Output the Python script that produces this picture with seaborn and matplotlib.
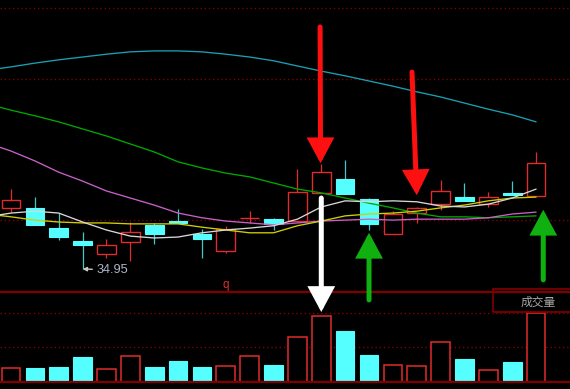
import matplotlib
matplotlib.use('Agg')
import matplotlib.pyplot as plt
from matplotlib.patches import Rectangle, ConnectionPatch
import numpy as np
import seaborn as sns

# 23 daily sessions (k-line)
opens = [36.25, 36.25, 35.82, 35.55, 35.27, 35.52, 35.89, 35.97, 35.69, 35.33, 36.03, 36.01,
         35.97, 36.57, 36.86, 36.44, 35.69, 36.14, 36.33, 36.48, 36.33, 36.57, 36.50]
closes = [36.42, 35.89, 35.63, 35.46, 35.46, 35.74, 35.69, 35.93, 35.59, 35.80, 36.04, 35.91,
          36.59, 37.01, 36.55, 35.91, 36.12, 36.25, 36.61, 36.40, 36.48, 36.52, 37.21]
highs = [36.65, 36.48, 36.14, 35.74, 35.59, 35.95, 35.93, 36.23, 35.80, 35.87, 36.18, 36.04,
         37.08, 37.18, 37.27, 36.46, 36.18, 36.27, 36.84, 36.78, 36.59, 36.82, 37.44]
lows = [36.16, 35.89, 35.57, 34.95, 35.18, 35.12, 35.48, 35.93, 35.18, 35.29, 35.93, 35.78,
        35.97, 36.57, 36.55, 35.78, 35.69, 35.93, 36.21, 36.40, 36.27, 36.52, 36.50]
volumes = [14, 14, 15, 25, 13, 26, 15, 21, 15, 16, 26, 17, 45, 66, 51, 27, 17, 16, 40, 23, 12, 20, 69]

# moving averages, first value is the session before the window
ma5 = [36.06, 36.14, 36.18, 36.14, 35.95, 35.78, 35.65, 35.61, 35.63, 35.72, 35.78, 35.82,
       35.87, 36.01, 36.27, 36.40, 36.38, 36.40, 36.38, 36.29, 36.27, 36.33, 36.46, 36.65]
ma10 = [36.12, 36.06, 35.99, 35.95, 35.93, 35.93, 35.91, 35.91, 35.91, 35.84, 35.78, 35.72,
        35.72, 35.87, 35.97, 36.08, 36.12, 36.14, 36.18, 36.25, 36.31, 36.40, 36.46, 36.48]
ma20 = [37.63, 37.46, 37.25, 37.01, 36.82, 36.61, 36.46, 36.31, 36.14, 36.04, 35.97, 35.93,
        35.89, 35.93, 35.97, 35.99, 36.01, 35.99, 36.01, 36.01, 36.01, 36.04, 36.12, 36.16]
ma60 = [38.46, 38.33, 38.21, 38.08, 37.93, 37.78, 37.61, 37.44, 37.23, 37.10, 36.99, 36.91,
        36.78, 36.65, 36.57, 36.46, 36.35, 36.25, 36.14, 36.06, 36.06, 36.04, 36.06, 36.08]
ma120 = [39.18, 39.25, 39.33, 39.40, 39.46, 39.52, 39.57, 39.59, 39.59, 39.57, 39.52, 39.46,
         39.38, 39.27, 39.16, 39.06, 38.95, 38.84, 38.72, 38.61, 38.48, 38.35, 38.23, 38.08]

price_grid = [40.5, 39.0, 36.0]
vol_grid = [35, 69]

RED = '#e02c2c'
CYAN = '#55ffff'
GRID = '#800000'

sns.set_theme(style='dark', rc={'axes.facecolor': 'black', 'figure.facecolor': 'black'})
plt.rcParams['font.family'] = ['Liberation Sans', 'Noto Sans CJK SC', 'DejaVu Sans']

fig = plt.figure(figsize=(5.7, 3.89), dpi=100)
ax = fig.add_axes([0, 0.2494, 1, 0.7506])
axv = fig.add_axes([0, 0.018, 1, 0.2314])

idx = np.arange(len(opens))
ma_x = np.arange(-1, len(opens))

# candles
for i in idx:
    o, c, h, l = opens[i], closes[i], highs[i], lows[i]
    if c >= o:
        ax.vlines(i, c, h, color=RED, lw=0.9, zorder=2)
        ax.vlines(i, l, o, color=RED, lw=0.9, zorder=2)
        ax.bar(i, max(c - o, 0.005), bottom=o, width=0.78, facecolor='black',
               edgecolor=RED, lw=1.0, zorder=3)
    else:
        ax.vlines(i, l, h, color='#40c8cc', lw=0.9, zorder=2)
        ax.bar(i, o - c, bottom=c, width=0.78, facecolor=CYAN,
               edgecolor=CYAN, lw=0.8, zorder=3)

for vals, col in [(ma120, '#1aa0b4'), (ma60, '#00a800'), (ma20, '#c860c8'),
                  (ma10, '#d0d000'), (ma5, '#d8d8d8')]:
    sns.lineplot(x=ma_x, y=vals, ax=ax, color=col, lw=0.95, zorder=4, legend=False)

for g in price_grid:
    ax.axhline(g, color=GRID, lw=1, ls=(0, (1, 2)), zorder=1)

ax.set_xlim(-0.46, 23.42)
ax.set_ylim(34.461, 40.673)

ax.annotate('34.95', xy=(3, lows[3]), xytext=(3.6, lows[3] - 0.02), color='#aab8c8',
            fontsize=9.2, ha='left', va='center',
            arrowprops=dict(arrowstyle='-|>', color='#c8c8c8', lw=1, shrinkA=1, shrinkB=0,
                            mutation_scale=6))
ax.text(9, 34.61, 'q', color=RED, fontsize=8.5, ha='center', va='center')

# volume
for i in idx:
    if closes[i] >= opens[i]:
        axv.bar(i, volumes[i], width=0.78, facecolor='black', edgecolor=RED, lw=1.1)
    else:
        axv.bar(i, volumes[i], width=0.78, facecolor=CYAN, edgecolor=CYAN, lw=0.8)
for g in vol_grid:
    axv.axhline(g, color=GRID, lw=1, ls=(0, (1, 2)), zorder=0)
axv.set_xlim(-0.46, 23.42)
axv.set_ylim(0, 90)
axv.add_patch(Rectangle((0.865, 0.778), 0.2, 0.25, transform=axv.transAxes, fill=False,
                        edgecolor=GRID, lw=1.2, clip_on=False))
axv.text(0.944, 0.885, '成交量', transform=axv.transAxes, color='#a8a8a8', fontsize=8.5,
         ha='center', va='center', family=['Noto Sans CJK SC', 'DejaVu Sans'])

for a in (ax, axv):
    a.set_xticks([])
    a.set_yticks([])
    for s in a.spines.values():
        s.set_visible(False)
for side in ('top', 'bottom'):
    axv.spines[side].set_visible(True)
    axv.spines[side].set_color(GRID)
    axv.spines[side].set_linewidth(1.6)

# marker arrows: (x_from, y_from, axes_from, x_to, y_to, axes_to, color)
arrows = [
    (12.95, 40.10, ax, 12.97, 37.20, ax, '#ff1010'),
    (16.80, 39.14, ax, 17.00, 36.52, ax, '#ff1010'),
    (13.00, 36.46, ax, 13.00, 70, axv, '#ffffff'),
    (15.00, 82, axv, 15.00, 35.72, ax, '#10b010'),
    (22.30, 34.72, ax, 22.30, 36.21, ax, '#10b010'),
]
for x0, y0, a0, x1, y1, a1, col in arrows:
    con = ConnectionPatch((x0, y0), (x1, y1), coordsA=a0.transData, coordsB=a1.transData,
                          arrowstyle='-|>,head_length=1.3,head_width=0.7', mutation_scale=10,
                          color=col, lw=3.6, shrinkA=0, shrinkB=0, capstyle='round',
                          joinstyle='miter', zorder=10)
    fig.add_artist(con)

fig.savefig('out.png', dpi=100, facecolor='black')
